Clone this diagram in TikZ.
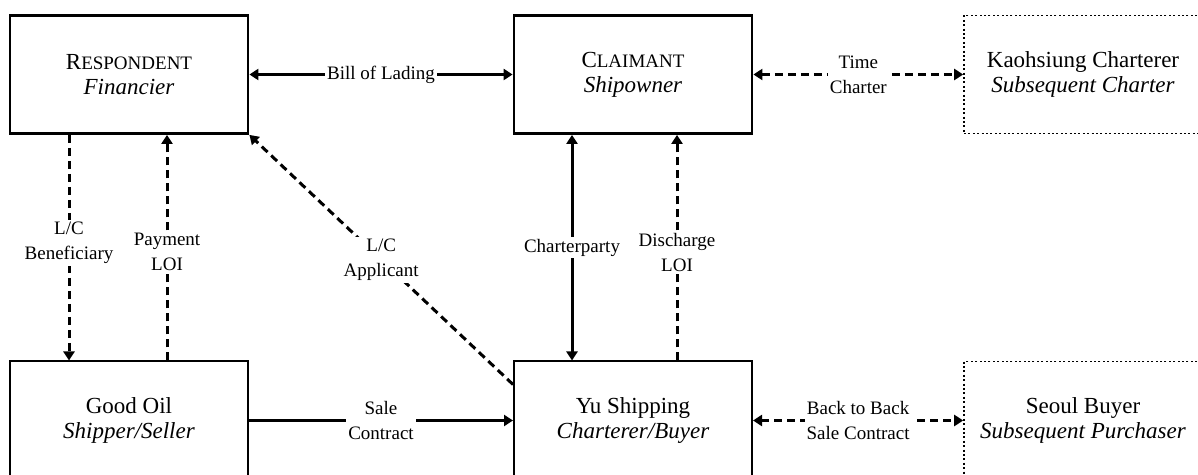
\documentclass[tikz,border=0pt]{standalone}
\usepackage{fontspec}
\setmainfont{Liberation Serif}
\usetikzlibrary{arrows.meta,calc}

\newcommand{\fakesc}[2]{#1{\fontsize{9.5}{11}\selectfont #2}}

\begin{document}
\begin{tikzpicture}[x=0.5pt,y=-0.5pt,
  font=\fontsize{11.5}{12.5}\selectfont,
  party/.style={draw,line width=1.4pt,minimum width=119pt,minimum height=59pt,align=center,inner sep=0pt},
  partythin/.style={party,line width=1pt},
  later/.style={party,line width=0.8pt,dash pattern=on 1pt off 1.2pt},
  arr/.style={line width=1.5pt,-{Triangle[length=4.5pt,width=5.5pt]}},
  arrs/.style={line width=1.5pt,{Triangle[length=4.5pt,width=5.5pt]}-{Triangle[length=4.5pt,width=5.5pt]}},
  dsh/.style={dash pattern=on 4pt off 2.5pt},
  lab/.style={font=\fontsize{9.5}{12.5}\selectfont,fill=white,inner sep=1pt,align=center}]
\useasboundingbox (0,0) rectangle (1198,475);
\clip (0,0) rectangle (1198,475);
% ---------- top row ----------
\node[party] (resp) at (129,74.5) {\fakesc{R}{ESPONDENT}\\\textit{Financier}};
\node[party] (clmt) at (633,74.5) {\fakesc{C}{LAIMANT}\\\textit{Shipowner}};
\node[later] (kaoh) at (1083,74.5) {Kaohsiung Charterer\\\textit{Subsequent Charter}};
% ---------- bottom row ----------
\node[partythin] (good) at (129,420.5) {Good Oil\\\textit{Shipper/Seller}};
\node[partythin] (yu) at (633,420.5) {Yu Shipping\\\textit{Charterer/Buyer}};
\node[later] (seoul) at (1083,420.5) {Seoul Buyer\\\textit{Subsequent Purchaser}};
% ---------- contracts ----------
\draw[arrs] (resp) -- node[lab]{Bill of Lading} (clmt);
\draw[arrs,dsh] (clmt) -- node[lab]{Time\\Charter} (kaoh);
\draw[arr] (good) -- node[lab]{Sale\\Contract} (yu);
\draw[arrs,dsh] (yu) -- node[lab]{Back to Back\\Sale Contract} (seoul);
\draw[arr,dsh] ($(resp.south)+(-60,0)$) -- node[lab,pos=0.48]{L/C\\Beneficiary} ($(good.north)+(-60,0)$);
\draw[arr,dsh] ($(good.north)+(38,0)$) -- node[lab,pos=0.48]{Payment\\LOI} ($(resp.south)+(38,0)$);
\draw[arrs] ($(clmt.south)+(-61,0)$) -- node[lab]{Charterparty} ($(yu.north)+(-61,0)$);
\draw[arr,dsh] ($(yu.north)+(44,0)$) -- node[lab,pos=0.48]{Discharge\\LOI} ($(clmt.south)+(44,0)$);
\draw[arr,dsh] ($(yu.north west)+(0,24)$) -- node[lab]{L/C\\Applicant} (resp.south east);
\end{tikzpicture}
\end{document}
